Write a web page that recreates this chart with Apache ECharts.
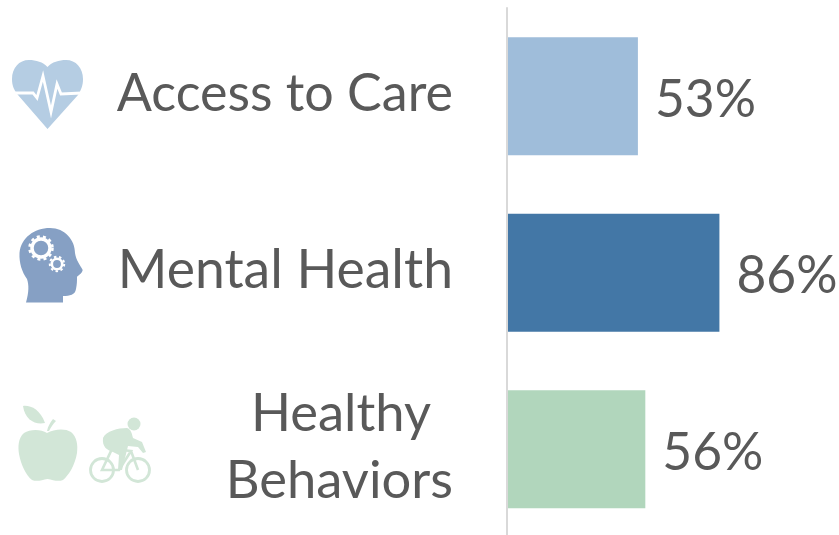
<!DOCTYPE html>
<html><head><meta charset="utf-8">
<style>html,body{margin:0;padding:0;background:#fff}#c{width:839px;height:535px}</style>
<script src="https://cdn.jsdelivr.net/npm/echarts@6/dist/echarts.min.js"></script></head>
<body><div id="c"></div>
<script>
const categories = ['Access to Care', 'Mental Health', 'Healthy\nBehaviors'];
const values = [53, 86, 56];
const barColors = ['#9FBDDA', '#4377A6', '#B1D6BC'];
const textColor = '#595959';
const font = 'Lato, Carlito, "Open Sans", sans-serif';

const heartColor = '#B5CDE3', headColor = '#86A0C4', greenColor = '#D2E6D7';
const iconPaths = {
  heart:'M47.5 67 C43 62 36 60 29 60 C19 60 12 68 12 79 C12 86 14 90 18 95 L47.5 129 L78 95 C81 90 83 86 83 79 C83 68 76 60 66 60 C59 60 52 62 47.5 67 Z',
  ecg:'M13 93 L33 93 L37 98 L43 76 L51 112 L57 84 L61 94 L82 93',
  head:'M26 302.5 C29 292 29 285 27 279 C22 272 19 263 19.5 253 C21 238 34 228 50 228 C65 228 75 240 75 253 C76 260 80 265 82.7 270 C82 274 78 275 77 277 C77 281 77 284 76 289 C75 295 70 296 63 296 L63 302.5 Z',
  apple:'M47 433 C41 429 30 429 24 433 C18 438 18 447 19 454 C21 465 26 475 32 480 C37 482 42 480 47.5 479 C53 480 58 482 63 480 C69 475 75 465 77 453 C78 445 77 437 71 432 C65 428 54 429 47 433 Z',
  leaf:'M23 406 C30 405 40 409 45 423 C35 425 25 420 23 406 Z',
  stem:'M47 431 C48 426 50 423 53 419 L56 421 C53 424 51 427 49 431 Z',
  frame:'M102 470 L112 449 L131 451 L119 470 Z M131 451 L138 470',
  rider:'M103 438 C106 431 118 428 127 428 C131 429 132 434 133 438 L142 442 L146 452 L143 453 L138 447 L128 446 L125 458 L122 470 L118 470 L119 455 L113 452 C107 450 102 447 103 438 Z'
};
Object.keys(iconPaths).forEach(k => echarts.graphic.registerShape('icon_' + k, echarts.graphic.extendPath(iconPaths[k], {})));
const p = (k, style) => ({type:'icon_' + k, style});
const icons = [
  p('heart',{fill:heartColor}),
  p('ecg',{fill:'none',stroke:'#fff',lineWidth:2.8}),
  p('head',{fill:headColor}),
  {type:'circle',shape:{cx:41,cy:248,r:9},style:{fill:'none',stroke:'#fff',lineWidth:3.5}},
  {type:'circle',shape:{cx:41,cy:248,r:11.5},style:{fill:'none',stroke:'#fff',lineWidth:2.5,lineDash:[3,3.2]}},
  {type:'circle',shape:{cx:57,cy:264,r:5.2},style:{fill:'none',stroke:'#fff',lineWidth:2.6}},
  {type:'circle',shape:{cx:57,cy:264,r:7.2},style:{fill:'none',stroke:'#fff',lineWidth:2,lineDash:[2.5,2.6]}},
  p('apple',{fill:greenColor}),
  p('leaf',{fill:greenColor}),
  p('stem',{fill:greenColor}),
  {type:'circle',shape:{cx:102,cy:470,r:11.5},style:{fill:'none',stroke:greenColor,lineWidth:2.8}},
  {type:'circle',shape:{cx:138,cy:470,r:11.5},style:{fill:'none',stroke:greenColor,lineWidth:2.8}},
  p('frame',{fill:'none',stroke:greenColor,lineWidth:2.6}),
  p('rider',{fill:greenColor}),
  {type:'circle',shape:{cx:134,cy:424,r:6.5},style:{fill:greenColor}}
];

const labelStyle = (size, extra) => Object.assign({fontSize:size,fontFamily:font,color:textColor,lineHeight:70}, extra);
const chart = echarts.init(document.getElementById('c'), null, {renderer:'canvas'});
chart.setOption({
  animation:false,
  backgroundColor:'#fff',
  grid:{left:507,top:8,width:247,height:529.5,outerBoundsMode:'none'},
  xAxis:{type:'value',min:0,max:100,show:false},
  yAxis:{type:'category',inverse:true,data:categories,z:3,
    axisTick:{show:false},
    axisLine:{lineStyle:{color:'#D9D9D9',width:2}},
    axisLabel:{margin:54,color:textColor,fontFamily:font,fontSize:52.5,lineHeight:70,align:'right',
      formatter:v=>{
        if(v.includes('\n')){const s=v.split('\n');return '{a|'+s[0]+'}\n{b|'+s[1]+'}';}
        return (v===categories[0]?'{c|':'{d|')+v+'}';
      },
      rich:{a:labelStyle(52.5,{padding:[0,22,0,0],lineHeight:72}),b:labelStyle(52.5,{padding:[0,0,9,0]}),c:labelStyle(52,{padding:[0,0,5,0]}),d:labelStyle(53.5,{padding:[0,0,4,0]})}}},
  series:[{type:'bar',barWidth:118,
    data:values.map((v,i)=>({value:v,itemStyle:{color:barColors[i]}})),
    label:{show:true,position:'right',distance:17,offset:[0,4],color:textColor,fontFamily:font,fontSize:51.5,formatter:p=>p.value+'%'}}],
  graphic:{elements:icons}
});
</script></body></html>
